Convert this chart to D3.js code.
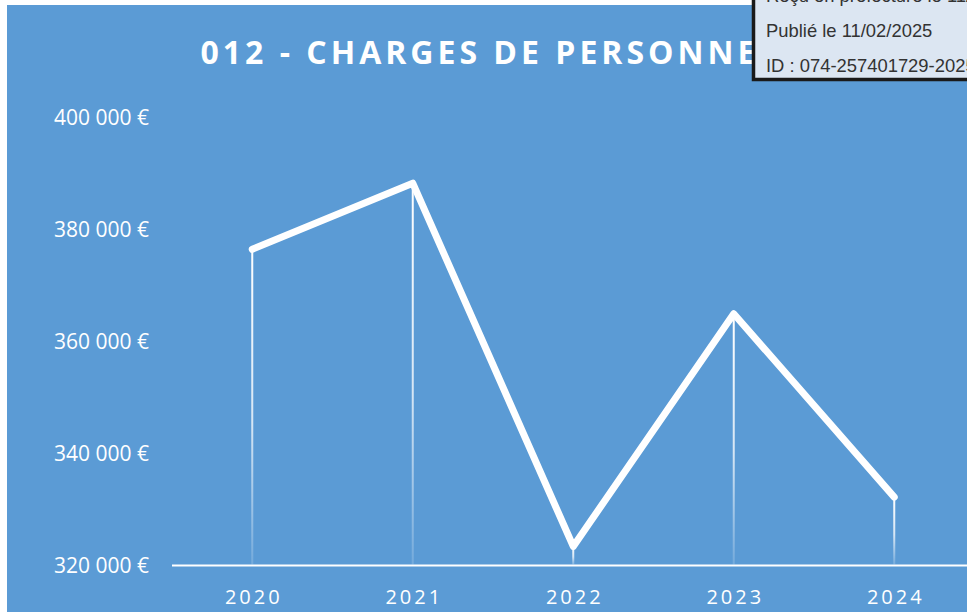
<!DOCTYPE html>
<html>
<head>
<meta charset="utf-8">
<script src="https://cdn.jsdelivr.net/npm/d3@7"></script>
<style>
  body { margin: 0; background: #fff; overflow: hidden; }
  svg { display: block; }
</style>
</head>
<body>
<div id="chart"></div>
<script>
var width = 967;
var height = 612;

// data
var years = ["2020", "2021", "2022", "2023", "2024"];
var charges = [376400, 388200, 323400, 364900, 332200];
var yTicks = [320000, 340000, 360000, 380000, 400000];
var stampLines = ["Reçu en préfecture le 11/02/2025", "Publié le 11/02/2025", "ID : 074-257401729-20250210-DEL2025_012-DE"];

var fr = d3.formatLocale({decimal: ",", thousands: "\u00a0", grouping: [3], currency: ["", "\u00a0€"]});
var fmt = fr.format("$,.0f");

var svg = d3.select("#chart")
    .append("svg")
    .attr("width", width)
    .attr("height", height);

// chart background
svg.append("rect")
    .attr("x", 7)
    .attr("y", 5)
    .attr("width", width)
    .attr("height", height)
    .attr("fill", "#5b9bd5");

let x = d3.scaleBand()
    .domain(years)
    .range([172, 974.5]);

let y = d3.scaleLinear()
    .domain([320000, 400000])
    .range([565.5, 117]);

var data = years.map(function(d, i){ return {year: d, value: charges[i]}; });

// gradients for the drop lines
var defs = svg.append("defs");
data.forEach(function(d, i){
  var g = defs.append("linearGradient")
      .attr("id", "drop" + i)
      .attr("gradientUnits", "userSpaceOnUse")
      .attr("x1", 0).attr("x2", 0)
      .attr("y1", y(d.value)).attr("y2", y(320000));
  g.append("stop").attr("offset", "0%").attr("stop-color", "#fff").attr("stop-opacity", 1);
  g.append("stop").attr("offset", "55%").attr("stop-color", "#fff").attr("stop-opacity", 0.75);
  g.append("stop").attr("offset", "100%").attr("stop-color", "#fff").attr("stop-opacity", 0.15);
});

svg.append("g")
  .selectAll("rect")
  .data(data)
  .enter()
  .append("rect")
    .attr("x", function(d){ return x(d.year) + x.bandwidth() / 2 - 1; })
    .attr("y", function(d){ return y(d.value); })
    .attr("width", 2)
    .attr("height", function(d){ return y(320000) - y(d.value) - 1; })
    .attr("fill", function(d, i){ return "url(#drop" + i + ")"; });

// y labels
svg.append("g")
  .selectAll("text")
  .data(yTicks)
  .enter()
  .append("text")
    .attr("x", 149)
    .attr("y", function(d){ return y(d); })
    .attr("dy", "0.36em")
    .attr("text-anchor", "end")
    .attr("fill", "#fff")
    .style("font-family", "'Open Sans'")
    .style("font-size", "21px")
    .text(function(d){ return fmt(d); });

// x axis line
svg.append("line")
    .attr("x1", 172)
    .attr("x2", width)
    .attr("y1", y(320000))
    .attr("y2", y(320000))
    .attr("stroke", "#fff")
    .attr("stroke-width", 2.2);

// x labels
svg.append("g")
  .selectAll("text")
  .data(years)
  .enter()
  .append("text")
    .attr("x", function(d){ return x(d) + x.bandwidth() / 2 + 1.5; })
    .attr("y", 597)
    .attr("dy", "0.36em")
    .attr("text-anchor", "middle")
    .attr("fill", "#fff")
    .style("font-family", "'Open Sans'")
    .style("font-size", "20px")
    .style("letter-spacing", "3px")
    .text(function(d){ return d; });

// the line
var line = d3.line()
    .x(function(d){ return x(d.year) + x.bandwidth() / 2; })
    .y(function(d){ return y(d.value); });

svg.append("path")
    .datum(data)
    .attr("d", line)
    .attr("fill", "none")
    .attr("stroke", "#fff")
    .attr("stroke-width", 7)
    .attr("stroke-linejoin", "round")
    .attr("stroke-linecap", "round");

// title
svg.append("text")
    .attr("x", 491)
    .attr("y", 52)
    .attr("dy", "0.36em")
    .attr("text-anchor", "middle")
    .attr("fill", "#fff")
    .style("font-family", "'Open Sans'")
    .style("font-weight", 700)
    .style("font-size", "32px")
    .style("letter-spacing", "4px")
    .text("012 - CHARGES DE PERSONNEL");

// stamp box over the top right corner
var stamp = svg.append("g");
stamp.append("rect")
    .attr("x", 753.5)
    .attr("y", -20)
    .attr("width", 300)
    .attr("height", 99.5)
    .attr("fill", "#dce6f2")
    .attr("stroke", "#1a1a1a")
    .attr("stroke-width", 3.5);

stamp.selectAll("text")
  .data(stampLines)
  .enter()
  .append("text")
    .attr("x", 766)
    .attr("y", function(d, i){ return 1.7 + i * 35; })
    .attr("fill", "#333")
    .style("font-family", "'Liberation Sans', Arial")
    .style("font-size", "18.4px")
    .text(function(d){ return d; });
</script>
</body>
</html>
